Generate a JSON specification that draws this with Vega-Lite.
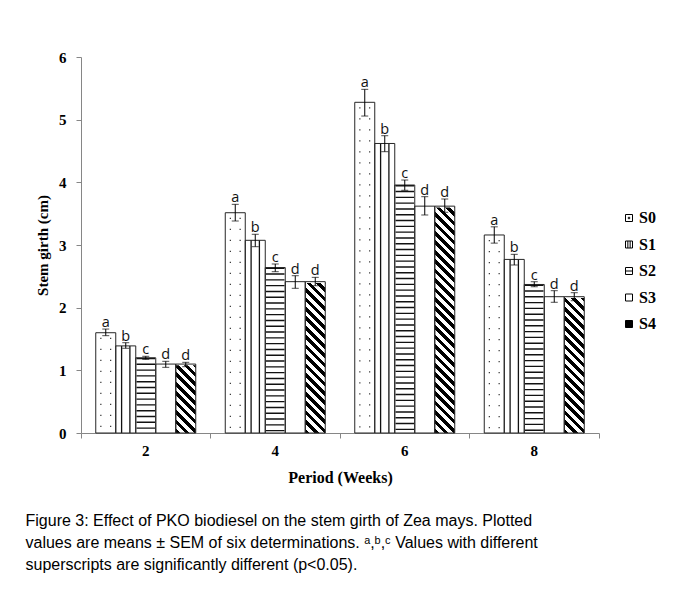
{
  "$schema": "https://vega.github.io/schema/vega-lite/v6.json",
  "width": 518,
  "height": 376,
  "autosize": {"type": "none"},
  "padding": {"left": 81, "top": 57, "right": 79, "bottom": 157},
  "background": "white",
  "config": {
    "view": {"stroke": null},
    "axis": {
      "domainColor": "#868686", "tickColor": "#868686", "tickSize": 5, "grid": false,
      "labelColor": "#000", "titleColor": "#000",
      "labelFont": "Liberation Serif", "labelFontWeight": "bold", "labelFontSize": 15,
      "titleFont": "Liberation Serif", "titleFontWeight": "bold", "titleFontSize": 15
    },
    "axisY": {"labelPadding": 10, "titlePadding": 8, "tickCount": 6},
    "legend": {
      "orient": "none", "legendX": 540, "legendY": 153, "padding": 0,
      "labelFont": "Liberation Serif", "labelFontWeight": "bold", "labelFontSize": 16, "labelColor": "#000",
      "symbolSize": 49, "symbolStrokeWidth": 1, "symbolStrokeColor": "#000", "symbolOpacity": 1,
      "rowPadding": 10.5, "labelOffset": 2
    }
  },
  "title": {
    "text": [
      "Figure 3: Effect of PKO biodiesel on the stem girth of Zea mays. Plotted",
      "values are means ± SEM of six determinations. ᵃ,ᵇ,ᶜ Values with different",
      "superscripts are significantly different (p<0.05)."
    ],
    "orient": "bottom", "anchor": "start", "frame": "bounds",
    "font": "Liberation Sans", "fontSize": 16, "fontWeight": "normal", "lineHeight": 22,
    "color": "#000", "offset": 28, "dx": -10
  },
  "data": {
    "values": [
      {"week": "2", "series": "S0", "mean": 1.60, "lo": 1.553, "hi": 1.659, "letter": "a"},
      {"week": "2", "series": "S1", "mean": 1.39, "lo": 1.352, "hi": 1.441, "letter": "b"},
      {"week": "2", "series": "S2", "mean": 1.20, "lo": 1.176, "hi": 1.224, "letter": "c"},
      {"week": "2", "series": "S3", "mean": 1.10, "lo": 1.048, "hi": 1.144, "letter": "d"},
      {"week": "2", "series": "S4", "mean": 1.10, "lo": 1.058, "hi": 1.128, "letter": "d"},
      {"week": "4", "series": "S0", "mean": 3.515, "lo": 3.383, "hi": 3.649, "letter": "a"},
      {"week": "4", "series": "S1", "mean": 3.075, "lo": 2.973, "hi": 3.171, "letter": "b"},
      {"week": "4", "series": "S2", "mean": 2.64, "lo": 2.574, "hi": 2.697, "letter": "c"},
      {"week": "4", "series": "S3", "mean": 2.415, "lo": 2.309, "hi": 2.51, "letter": "d"},
      {"week": "4", "series": "S4", "mean": 2.415, "lo": 2.35, "hi": 2.484, "letter": "d"},
      {"week": "6", "series": "S0", "mean": 5.277, "lo": 5.058, "hi": 5.484, "letter": "a"},
      {"week": "6", "series": "S1", "mean": 4.62, "lo": 4.489, "hi": 4.744, "letter": "b"},
      {"week": "6", "series": "S2", "mean": 3.957, "lo": 3.873, "hi": 4.037, "letter": "c"},
      {"week": "6", "series": "S3", "mean": 3.62, "lo": 3.479, "hi": 3.771, "letter": "d"},
      {"week": "6", "series": "S4", "mean": 3.62, "lo": 3.522, "hi": 3.734, "letter": "d"},
      {"week": "8", "series": "S0", "mean": 3.16, "lo": 3.03, "hi": 3.29, "letter": "a"},
      {"week": "8", "series": "S1", "mean": 2.77, "lo": 2.681, "hi": 2.851, "letter": "b"},
      {"week": "8", "series": "S2", "mean": 2.37, "lo": 2.334, "hi": 2.414, "letter": "c"},
      {"week": "8", "series": "S3", "mean": 2.175, "lo": 2.086, "hi": 2.271, "letter": "d"},
      {"week": "8", "series": "S4", "mean": 2.175, "lo": 2.111, "hi": 2.239, "letter": "d"}
    ]
  },
  "encoding": {
    "x": {
      "field": "week", "type": "ordinal", "sort": ["2", "4", "6", "8"],
      "scale": {"paddingInner": 0, "paddingOuter": 0},
      "title": "Period (Weeks)",
      "axis": {"labelAngle": 0, "bandPosition": 1, "tickExtra": true, "labelPadding": 5, "titlePadding": 11, "titleFontSize": 16}
    },
    "xOffset": {
      "field": "series", "type": "nominal", "sort": ["S0", "S1", "S2", "S3", "S4"],
      "scale": {"paddingInner": 0, "paddingOuter": 0.7375}
    }
  },
  "layer": [
    {
      "mark": {"type": "point", "filled": true, "stroke": "#000", "strokeWidth": 1, "size": 40, "yOffset": 30, "opacity": 1},
      "encoding": {
        "y": {"field": "mean", "type": "quantitative", "title": "Stem girth (cm)", "scale": {"domain": [0, 6], "nice": false}},
        "fill": {"field": "series", "type": "nominal", "title": null,
          "scale": {"domain": ["S0", "S1", "S2", "S3", "S4"], "range": ["#fff", "#fff", "#fff", "#fff", "#000"]},
          "legend": {"encode": {"symbols": {"update": {"stroke": {"value": "#000"}, "strokeWidth": {"value": 1}, "opacity": {"value": 1}}}}}},
        "shape": {"field": "series", "type": "nominal", "title": null,
          "scale": {"domain": ["S0", "S1", "S2", "S3", "S4"], "range": [
            "M-1,-1H1V1H-1Z M-0.2,-0.2H0.2V0.2H-0.2Z",
            "M-1,-1H1V1H-1Z M-0.33,-1V1 M0.33,-1V1",
            "M-1,-1H1V1H-1Z M-1,0H1",
            "M-1,-1H1V1H-1Z",
            "M-1,-1H1V1H-1Z"
          ]},
          "legend": {"encode": {"symbols": {"update": {"stroke": {"value": "#000"}, "strokeWidth": {"value": 1}, "opacity": {"value": 1}}}}}}
      }
    },
    {
      "mark": {"type": "bar", "fill": "#fff", "stroke": null},
      "encoding": {"y": {"field": "mean", "type": "quantitative", "title": "Stem girth (cm)", "scale": {"domain": [0, 6], "nice": false}}}
    },
    {
      "transform": [{"filter": "datum.series == 'S4'"}],
      "mark": {"type": "bar", "stroke": null, "fill": {
        "gradient": "linear", "x1": 0, "y1": 1, "x2": 0.0559, "y2": -0.0502,
        "stops": [
          {"offset": 0, "color": "#000"}, {"offset": 0.0119, "color": "#000"},
          {"offset": 0.0119, "color": "#fff"}, {"offset": 0.0238, "color": "#fff"},
          {"offset": 0.0238, "color": "#000"}, {"offset": 0.0357, "color": "#000"},
          {"offset": 0.0357, "color": "#fff"}, {"offset": 0.0476, "color": "#fff"},
          {"offset": 0.0476, "color": "#000"}, {"offset": 0.0595, "color": "#000"},
          {"offset": 0.0595, "color": "#fff"}, {"offset": 0.0714, "color": "#fff"},
          {"offset": 0.0714, "color": "#000"}, {"offset": 0.0833, "color": "#000"},
          {"offset": 0.0833, "color": "#fff"}, {"offset": 0.0952, "color": "#fff"},
          {"offset": 0.0952, "color": "#000"}, {"offset": 0.1071, "color": "#000"},
          {"offset": 0.1071, "color": "#fff"}, {"offset": 0.119, "color": "#fff"},
          {"offset": 0.119, "color": "#000"}, {"offset": 0.131, "color": "#000"},
          {"offset": 0.131, "color": "#fff"}, {"offset": 0.1429, "color": "#fff"},
          {"offset": 0.1429, "color": "#000"}, {"offset": 0.1548, "color": "#000"},
          {"offset": 0.1548, "color": "#fff"}, {"offset": 0.1667, "color": "#fff"},
          {"offset": 0.1667, "color": "#000"}, {"offset": 0.1786, "color": "#000"},
          {"offset": 0.1786, "color": "#fff"}, {"offset": 0.1905, "color": "#fff"},
          {"offset": 0.1905, "color": "#000"}, {"offset": 0.2024, "color": "#000"},
          {"offset": 0.2024, "color": "#fff"}, {"offset": 0.2143, "color": "#fff"},
          {"offset": 0.2143, "color": "#000"}, {"offset": 0.2262, "color": "#000"},
          {"offset": 0.2262, "color": "#fff"}, {"offset": 0.2381, "color": "#fff"},
          {"offset": 0.2381, "color": "#000"}, {"offset": 0.25, "color": "#000"},
          {"offset": 0.25, "color": "#fff"}, {"offset": 0.2619, "color": "#fff"},
          {"offset": 0.2619, "color": "#000"}, {"offset": 0.2738, "color": "#000"},
          {"offset": 0.2738, "color": "#fff"}, {"offset": 0.2857, "color": "#fff"},
          {"offset": 0.2857, "color": "#000"}, {"offset": 0.2976, "color": "#000"},
          {"offset": 0.2976, "color": "#fff"}, {"offset": 0.3095, "color": "#fff"},
          {"offset": 0.3095, "color": "#000"}, {"offset": 0.3214, "color": "#000"},
          {"offset": 0.3214, "color": "#fff"}, {"offset": 0.3333, "color": "#fff"},
          {"offset": 0.3333, "color": "#000"}, {"offset": 0.3452, "color": "#000"},
          {"offset": 0.3452, "color": "#fff"}, {"offset": 0.3571, "color": "#fff"},
          {"offset": 0.3571, "color": "#000"}, {"offset": 0.369, "color": "#000"},
          {"offset": 0.369, "color": "#fff"}, {"offset": 0.381, "color": "#fff"},
          {"offset": 0.381, "color": "#000"}, {"offset": 0.3929, "color": "#000"},
          {"offset": 0.3929, "color": "#fff"}, {"offset": 0.4048, "color": "#fff"},
          {"offset": 0.4048, "color": "#000"}, {"offset": 0.4167, "color": "#000"},
          {"offset": 0.4167, "color": "#fff"}, {"offset": 0.4286, "color": "#fff"},
          {"offset": 0.4286, "color": "#000"}, {"offset": 0.4405, "color": "#000"},
          {"offset": 0.4405, "color": "#fff"}, {"offset": 0.4524, "color": "#fff"},
          {"offset": 0.4524, "color": "#000"}, {"offset": 0.4643, "color": "#000"},
          {"offset": 0.4643, "color": "#fff"}, {"offset": 0.4762, "color": "#fff"},
          {"offset": 0.4762, "color": "#000"}, {"offset": 0.4881, "color": "#000"},
          {"offset": 0.4881, "color": "#fff"}, {"offset": 0.5, "color": "#fff"},
          {"offset": 0.5, "color": "#000"}, {"offset": 0.5119, "color": "#000"},
          {"offset": 0.5119, "color": "#fff"}, {"offset": 0.5238, "color": "#fff"},
          {"offset": 0.5238, "color": "#000"}, {"offset": 0.5357, "color": "#000"},
          {"offset": 0.5357, "color": "#fff"}, {"offset": 0.5476, "color": "#fff"},
          {"offset": 0.5476, "color": "#000"}, {"offset": 0.5595, "color": "#000"},
          {"offset": 0.5595, "color": "#fff"}, {"offset": 0.5714, "color": "#fff"},
          {"offset": 0.5714, "color": "#000"}, {"offset": 0.5833, "color": "#000"},
          {"offset": 0.5833, "color": "#fff"}, {"offset": 0.5952, "color": "#fff"},
          {"offset": 0.5952, "color": "#000"}, {"offset": 0.6071, "color": "#000"},
          {"offset": 0.6071, "color": "#fff"}, {"offset": 0.619, "color": "#fff"},
          {"offset": 0.619, "color": "#000"}, {"offset": 0.631, "color": "#000"},
          {"offset": 0.631, "color": "#fff"}, {"offset": 0.6429, "color": "#fff"},
          {"offset": 0.6429, "color": "#000"}, {"offset": 0.6548, "color": "#000"},
          {"offset": 0.6548, "color": "#fff"}, {"offset": 0.6667, "color": "#fff"},
          {"offset": 0.6667, "color": "#000"}, {"offset": 0.6786, "color": "#000"},
          {"offset": 0.6786, "color": "#fff"}, {"offset": 0.6905, "color": "#fff"},
          {"offset": 0.6905, "color": "#000"}, {"offset": 0.7024, "color": "#000"},
          {"offset": 0.7024, "color": "#fff"}, {"offset": 0.7143, "color": "#fff"},
          {"offset": 0.7143, "color": "#000"}, {"offset": 0.7262, "color": "#000"},
          {"offset": 0.7262, "color": "#fff"}, {"offset": 0.7381, "color": "#fff"},
          {"offset": 0.7381, "color": "#000"}, {"offset": 0.75, "color": "#000"},
          {"offset": 0.75, "color": "#fff"}, {"offset": 0.7619, "color": "#fff"},
          {"offset": 0.7619, "color": "#000"}, {"offset": 0.7738, "color": "#000"},
          {"offset": 0.7738, "color": "#fff"}, {"offset": 0.7857, "color": "#fff"},
          {"offset": 0.7857, "color": "#000"}, {"offset": 0.7976, "color": "#000"},
          {"offset": 0.7976, "color": "#fff"}, {"offset": 0.8095, "color": "#fff"},
          {"offset": 0.8095, "color": "#000"}, {"offset": 0.8214, "color": "#000"},
          {"offset": 0.8214, "color": "#fff"}, {"offset": 0.8333, "color": "#fff"},
          {"offset": 0.8333, "color": "#000"}, {"offset": 0.8452, "color": "#000"},
          {"offset": 0.8452, "color": "#fff"}, {"offset": 0.8571, "color": "#fff"},
          {"offset": 0.8571, "color": "#000"}, {"offset": 0.869, "color": "#000"},
          {"offset": 0.869, "color": "#fff"}, {"offset": 0.881, "color": "#fff"},
          {"offset": 0.881, "color": "#000"}, {"offset": 0.8929, "color": "#000"},
          {"offset": 0.8929, "color": "#fff"}, {"offset": 0.9048, "color": "#fff"},
          {"offset": 0.9048, "color": "#000"}, {"offset": 0.9167, "color": "#000"},
          {"offset": 0.9167, "color": "#fff"}, {"offset": 0.9286, "color": "#fff"},
          {"offset": 0.9286, "color": "#000"}, {"offset": 0.9405, "color": "#000"},
          {"offset": 0.9405, "color": "#fff"}, {"offset": 0.9524, "color": "#fff"},
          {"offset": 0.9524, "color": "#000"}, {"offset": 0.9643, "color": "#000"},
          {"offset": 0.9643, "color": "#fff"}, {"offset": 0.9762, "color": "#fff"},
          {"offset": 0.9762, "color": "#000"}, {"offset": 0.9881, "color": "#000"},
          {"offset": 0.9881, "color": "#fff"}, {"offset": 1, "color": "#fff"}
        ]
      }},
      "encoding": {
        "y": {"datum": 6, "type": "quantitative", "title": "Stem girth (cm)", "scale": {"domain": [0, 6], "nice": false}},
        "y2": {"datum": 0}
      }
    },
    {
      "transform": [{"filter": "datum.series == 'S4'"}],
      "mark": {"type": "bar", "fill": "#fff", "stroke": "#fff", "strokeWidth": 2.5},
      "encoding": {
        "y": {"field": "mean", "type": "quantitative", "title": "Stem girth (cm)", "scale": {"domain": [0, 6], "nice": false}},
        "y2": {"datum": 6}
      }
    },
    {
      "transform": [{"filter": "datum.series == 'S0'"}],
      "mark": {"type": "rule", "color": "#333", "strokeWidth": 11, "strokeDash": [1.2, 9.8], "strokeDashOffset": 6},
      "encoding": {
        "y": {"field": "mean", "type": "quantitative", "title": "Stem girth (cm)", "scale": {"domain": [0, 6], "nice": false}},
        "y2": {"datum": 0}
      }
    },
    {
      "transform": [{"filter": "datum.series == 'S0'"}],
      "mark": {"type": "rule", "color": "#fff", "strokeWidth": 8.6},
      "encoding": {
        "y": {"field": "mean", "type": "quantitative", "title": "Stem girth (cm)", "scale": {"domain": [0, 6], "nice": false}},
        "y2": {"datum": 0}
      }
    },
    {
      "transform": [{"filter": "datum.series == 'S1'"}],
      "mark": {"type": "rule", "color": "#111", "strokeWidth": 9.6},
      "encoding": {
        "y": {"field": "mean", "type": "quantitative", "title": "Stem girth (cm)", "scale": {"domain": [0, 6], "nice": false}},
        "y2": {"datum": 0}
      }
    },
    {
      "transform": [{"filter": "datum.series == 'S1'"}],
      "mark": {"type": "rule", "color": "#fff", "strokeWidth": 7},
      "encoding": {
        "y": {"field": "mean", "type": "quantitative", "title": "Stem girth (cm)", "scale": {"domain": [0, 6], "nice": false}},
        "y2": {"datum": 0}
      }
    },
    {
      "transform": [{"filter": "datum.series == 'S2'"}],
      "mark": {"type": "rule", "color": "#111", "strokeWidth": 18.5, "strokeDash": [1.4, 4.4]},
      "encoding": {
        "y": {"field": "mean", "type": "quantitative", "title": "Stem girth (cm)", "scale": {"domain": [0, 6], "nice": false}},
        "y2": {"datum": 0}
      }
    },
    {
      "mark": {"type": "bar", "fill": "#fff", "fillOpacity": 0, "stroke": "#262626", "strokeWidth": 1},
      "encoding": {"y": {"field": "mean", "type": "quantitative", "title": "Stem girth (cm)", "scale": {"domain": [0, 6], "nice": false}}}
    },
    {
      "mark": {"type": "rule", "color": "#000", "strokeWidth": 1},
      "encoding": {
        "y": {"field": "lo", "type": "quantitative", "title": "Stem girth (cm)", "scale": {"domain": [0, 6], "nice": false}},
        "y2": {"field": "hi"}
      }
    },
    {
      "mark": {"type": "tick", "color": "#000", "size": 7, "thickness": 1},
      "encoding": {"y": {"field": "lo", "type": "quantitative", "title": "Stem girth (cm)", "scale": {"domain": [0, 6], "nice": false}}}
    },
    {
      "mark": {"type": "tick", "color": "#000", "size": 7, "thickness": 1},
      "encoding": {"y": {"field": "hi", "type": "quantitative", "title": "Stem girth (cm)", "scale": {"domain": [0, 6], "nice": false}}}
    },
    {
      "mark": {"type": "text", "baseline": "alphabetic", "dy": -2, "font": "Open Sans", "fontSize": 14.5, "color": "#111"},
      "encoding": {
        "y": {"field": "hi", "type": "quantitative", "title": "Stem girth (cm)", "scale": {"domain": [0, 6], "nice": false}},
        "text": {"field": "letter"}
      }
    }
  ]
}
